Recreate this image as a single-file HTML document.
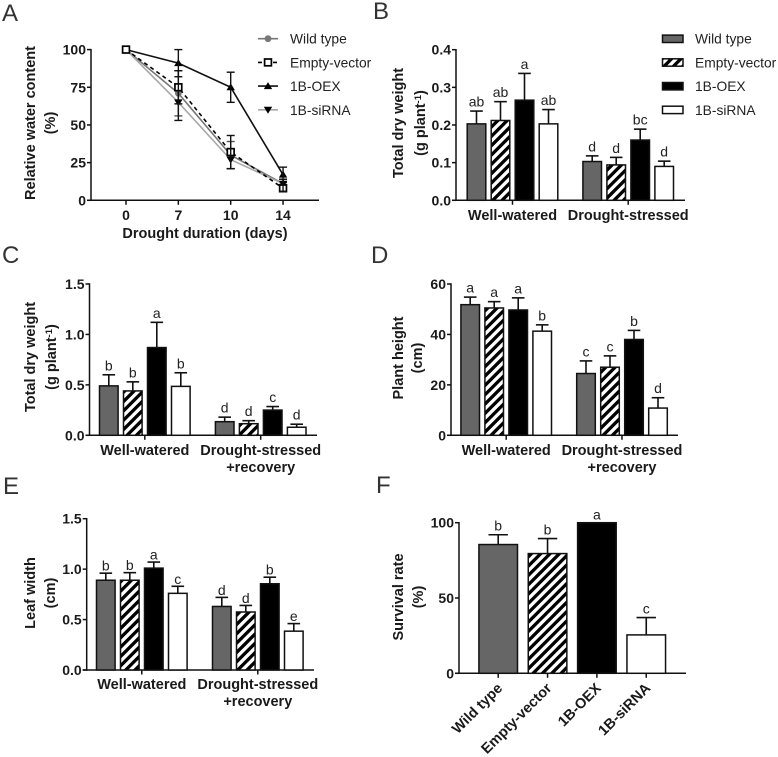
<!DOCTYPE html>
<html>
<head>
<meta charset="utf-8">
<title>Drought response panels</title>
<style>
html,body{margin:0;padding:0;background:#fff;}
svg{display:block;font-family:"Liberation Sans",sans-serif;filter:blur(0.35px);}
.tk{font-weight:bold;font-size:14px;fill:#1a1a1a;}
.ttl{font-weight:bold;font-size:14.5px;fill:#1a1a1a;text-anchor:middle;}
.cat{font-weight:bold;font-size:14.5px;fill:#1a1a1a;}
.lg{font-size:13.8px;fill:#222;}
.let{font-size:14px;fill:#222;text-anchor:middle;}
.pan{font-size:24px;fill:#333;}
</style>
</head>
<body>
<svg id="fig" xmlns="http://www.w3.org/2000/svg" width="778" height="757" viewBox="0 0 778 757">
<defs>
<pattern id="hatch" patternUnits="userSpaceOnUse" width="6.6" height="6.6" patternTransform="rotate(45)">
<rect width="6.6" height="6.6" fill="#fff"/>
<rect width="3.3" height="6.6" fill="#000"/>
</pattern>
</defs>
<text class="pan" x="2" y="21">A</text>
<text class="pan" x="373" y="19">B</text>
<text class="pan" x="2" y="263">C</text>
<text class="pan" x="371" y="263">D</text>
<text class="pan" x="3" y="494">E</text>
<text class="pan" x="376" y="493">F</text>

<text class="ttl" transform="translate(35,123) rotate(-90)">Relative water content</text>
<text class="ttl" transform="translate(55,123) rotate(-90)">(%)</text>
<text class="ttl" x="205" y="238">Drought duration (days)</text>

<text class="ttl" transform="translate(403,123) rotate(-90)">Total dry weight</text>
<text class="ttl" transform="translate(425,123) rotate(-90)">(g plant<tspan dy="-4" font-size="9.5">-1</tspan><tspan dy="4">)</tspan></text>

<text class="ttl" transform="translate(35,357) rotate(-90)">Total dry weight</text>
<text class="ttl" transform="translate(56,357) rotate(-90)">(g plant<tspan dy="-4" font-size="9.5">-1</tspan><tspan dy="4">)</tspan></text>

<text class="ttl" transform="translate(403,358) rotate(-90)">Plant height</text>
<text class="ttl" transform="translate(422,358) rotate(-90)">(cm)</text>

<text class="ttl" transform="translate(35,593) rotate(-90)">Leaf width</text>
<text class="ttl" transform="translate(55,593) rotate(-90)">(cm)</text>

<text class="ttl" transform="translate(403,597) rotate(-90)">Survival rate</text>
<text class="ttl" transform="translate(423,597) rotate(-90)">(%)</text>
</svg>
<script>
var legendNames = ["Wild type", "Empty-vector", "1B-OEX", "1B-siRNA"];

var aDays = ["0", "7", "10", "14"];
var aTicks = [0, 25, 50, 75, 100];
var aWild = [100, 71, 30, 11];
var aWildErr = [0, 15, 9, 3];
var aEmpty = [100, 75, 32, 8];
var aEmptyErr = [0, 11, 11, 2];
var aOex = [100, 91, 75, 17];
var aOexErr = [0, 9, 10, 5];
var aSirna = [100, 65, 27, 11];
var aSirnaErr = [0, 12, 6, 3];

var bTicks = [0.0, 0.1, 0.2, 0.3, 0.4];
var bGroups = ["Well-watered", "Drought-stressed"];
var bMeans = [0.203, 0.212, 0.266, 0.203, 0.103, 0.094, 0.160, 0.090];
var bErrs = [0.034, 0.050, 0.071, 0.038, 0.015, 0.020, 0.029, 0.014];
var bLetters = ["ab", "ab", "a", "ab", "d", "d", "bc", "d"];

var cTicks = [0.0, 0.5, 1.0, 1.5];
var cGroups = ["Well-watered", "Drought-stressed"];
var cMeans = [0.49, 0.44, 0.87, 0.485, 0.135, 0.115, 0.25, 0.08];
var cErrs = [0.11, 0.09, 0.25, 0.135, 0.045, 0.03, 0.035, 0.03];
var cLetters = ["b", "b", "a", "b", "d", "d", "c", "d"];

var dTicks = [0, 20, 40, 60];
var dGroups = ["Well-watered", "Drought-stressed"];
var dMeans = [51.8, 50.5, 49.7, 41.3, 24.5, 27, 38, 10.8];
var dErrs = [3, 2.5, 4.8, 2.5, 5, 4.5, 3.6, 4.1];
var dLetters = ["a", "a", "a", "b", "c", "c", "b", "d"];

var eTicks = [0.0, 0.5, 1.0, 1.5];
var eGroups = ["Well-watered", "Drought-stressed"];
var eMeans = [0.89, 0.89, 1.01, 0.76, 0.63, 0.575, 0.855, 0.385];
var eErrs = [0.07, 0.075, 0.06, 0.07, 0.09, 0.065, 0.065, 0.075];
var eLetters = ["b", "b", "a", "c", "d", "d", "b", "e"];

var fTicks = [0, 50, 100];
var fCategories = ["Wild type", "Empty-vector", "1B-OEX", "1B-siRNA"];
var fMeans = [85.5, 79.5, 100, 25.5];
var fErrs = [6.5, 10, 0, 11.5];
var fLetters = ["b", "b", "a", "c"];

var NS = "http://www.w3.org/2000/svg";
var fig = document.getElementById("fig");
var INK = "#111";

function el(tag, attrs, parent) {
  var n = document.createElementNS(NS, tag);
  for (var k in attrs) n.setAttribute(k, attrs[k]);
  (parent || fig).appendChild(n);
  return n;
}
function label(cls, x, y, str, anchor, parent, extra) {
  var t = el("text", {"class": cls, x: x, y: y}, parent);
  if (anchor) t.setAttribute("text-anchor", anchor);
  if (extra) t.setAttribute("transform", extra);
  t.textContent = str;
  return t;
}
function linear(d0, d1, r0, r1) {
  return function (v) { return r0 + (v - d0) / (d1 - d0) * (r1 - r0); };
}

function yAxis(prefix, scale, ticks, x0, x1, decimals) {
  var g = el("g", {});
  
  
  var top = scale(ticks[ticks.length - 1]), bottom = scale(ticks[0]);
  el("line", {x1: x0, x2: x0, y1: top - 0.75, y2: bottom + 0.75, stroke: INK, "stroke-width": 1.5}, g);
  el("line", {x1: x0 - 4, x2: x1, y1: bottom, y2: bottom, stroke: INK, "stroke-width": 1.5}, g);
  ticks.forEach(function (tv) {
    var y = scale(tv);
    el("line", {x1: x0 - 4, x2: x0, y1: y, y2: y, stroke: INK, "stroke-width": 1.5}, g);
    var t = label("tk", x0 - 5, y + 5, tv.toFixed(decimals), "end", g);
    
    
  });
}
function xTick(g, x, y0) {
  el("line", {x1: x, x2: x, y1: y0, y2: y0 + 4.5, stroke: INK, "stroke-width": 1.5}, g);
}

function hatchOrFill(i) {
  return ["#666666", "url(#hatch)", "#000000", "#ffffff"][i];
}

function drawBar(g, cx, w, yScale, mean, err, fill, letter, capHalf, gap) {
  var y0 = yScale(0), yt = yScale(mean), ye = yScale(mean + err);
  if (err > 0) {
    el("line", {x1: cx, x2: cx, y1: yt, y2: ye, stroke: INK, "stroke-width": 1.6}, g);
    el("line", {x1: cx - capHalf, x2: cx + capHalf, y1: ye, y2: ye, stroke: INK, "stroke-width": 1.6}, g);
  }
  el("rect", {x: cx - w / 2, y: yt, width: w, height: y0 - yt, fill: fill, stroke: INK, "stroke-width": 1.5}, g);
  var t = label("let", cx, ye - gap, letter, null, g);
  
  
}

function groupedPanel(prefix, cfg, ticks, groups, means, errs, letters) {
  var y = linear(ticks[0], ticks[ticks.length - 1], cfg.y0, cfg.yTop);
  yAxis(prefix, y, ticks, cfg.axisX, cfg.axisEnd, cfg.decimals);
  var g = el("g", {});
  
  
  means.forEach(function (m, i) {
    var gi = Math.floor(i / 4), si = i % 4;
    var cx = cfg.groupStart[gi] + si * 24;
    drawBar(g, cx, 18.6, y, m, errs[i], hatchOrFill(si), letters[i], 6.3, cfg.gap);
  });
  var xa = el("g", {});
  
  
  groups.forEach(function (name, gi) {
    var cx = cfg.groupStart[gi] + 36;
    xTick(xa, cx, cfg.y0);
    var t = label("ttl", cx, cfg.labelY, name, null, xa);
    
    
    if (gi === 1 && cfg.second) {
      var t2 = label("ttl", cx, cfg.labelY + 17, cfg.second, null, xa);
      
      
    }
  });
}

groupedPanel("b", {y0: 200.3, yTop: 49.7, axisX: 456, axisEnd: 685, decimals: 1, groupStart: [476.5, 592.2], labelY: 220, gap: 4.5}, bTicks, bGroups, bMeans, bErrs, bLetters);
groupedPanel("c", {y0: 435.3, yTop: 284, axisX: 89.5, axisEnd: 317, decimals: 1, groupStart: [108.8, 224.7], labelY: 455, gap: 4.5, second: "+recovery"}, cTicks, cGroups, cMeans, cErrs, cLetters);
groupedPanel("d", {y0: 435.3, yTop: 284, axisX: 451, axisEnd: 678, decimals: 0, groupStart: [470.2, 586], labelY: 455, gap: 4.5, second: "+recovery"}, dTicks, dGroups, dMeans, dErrs, dLetters);
groupedPanel("e", {y0: 670, yTop: 518.7, axisX: 86.7, axisEnd: 314, decimals: 1, groupStart: [105.8, 221.8], labelY: 689, gap: 2.5, second: "+recovery"}, eTicks, eGroups, eMeans, eErrs, eLetters);

/* Panel F */
(function () {
  var y = linear(0, 100, 673.3, 522.7);
  yAxis("f", y, fTicks, 459, 686, 0);
  var g = el("g", {});
  
  
  var xa = el("g", {});
  
  
  fCategories.forEach(function (name, i) {
    var cx = 498.2 + i * 49.35;
    drawBar(g, cx, 38.6, y, fMeans[i], fErrs[i], hatchOrFill(i), fLetters[i], 9.7, fErrs[i] > 0 ? 4 : 3.2);
    xTick(xa, cx, 673.3);
    var t = label("cat", cx + 5, 689, name, "end", xa, "rotate(-45 " + (cx + 5) + " 689)");
    
    
  });
})();

/* Panel A */
function marker(g, kind, x, y, color) {
  if (kind === 0) el("circle", {cx: x, cy: y, r: 3.4, fill: color}, g);
  if (kind === 1) el("rect", {x: x - 3.4, y: y - 3.4, width: 6.8, height: 6.8, fill: "#fff", stroke: "#000", "stroke-width": 1.7}, g);
  if (kind === 2) el("path", {d: "M" + x + " " + (y - 4) + "L" + (x + 4.2) + " " + (y + 3) + "L" + (x - 4.2) + " " + (y + 3) + "Z", fill: "#000"}, g);
  if (kind === 3) el("path", {d: "M" + x + " " + (y + 4) + "L" + (x + 4.2) + " " + (y - 3) + "L" + (x - 4.2) + " " + (y - 3) + "Z", fill: "#000"}, g);
}
(function () {
  var y = linear(0, 100, 200.3, 49.6);
  var x = function (i) { return 126 + i * 52.35; };
  yAxis("a", y, aTicks, 91, 319, 0);
  var xa = el("g", {});
  
  
  aDays.forEach(function (d, i) {
    xTick(xa, x(i), 200.3);
    var t = label("tk", x(i), 220, d, "middle", xa);
    
    
  });
  var order = [
    {kind: 0, name: "wild-type", vals: aWild, errs: aWildErr, color: "#777777", dash: ""},
    {kind: 2, name: "1b-oex", vals: aOex, errs: aOexErr, color: "#111111", dash: ""},
    {kind: 3, name: "1b-sirna", vals: aSirna, errs: aSirnaErr, color: "#a8a8a8", dash: ""},
    {kind: 1, name: "empty-vector", vals: aEmpty, errs: aEmptyErr, color: "#000000", dash: "4 3.5"}
  ];
  order.forEach(function (s) {
    var g = el("g", {});
    
    
    var pts = s.vals.map(function (v, i) { return x(i) + "," + y(v); }).join(" ");
    var line = el("polyline", {points: pts, fill: "none", stroke: s.color, "stroke-width": 1.6}, g);
    if (s.dash) line.setAttribute("stroke-dasharray", s.dash);
    s.vals.forEach(function (v, i) {
      marker(g, s.kind, x(i), y(v), s.color);
      if (s.errs[i] > 0) {
        var t = y(v + s.errs[i]), b = y(v - s.errs[i]), c = x(i);
        var ec = s.kind === 0 ? "#555" : "#111";
        el("line", {x1: c, x2: c, y1: t, y2: b, stroke: ec, "stroke-width": 1.4}, g);
        el("line", {x1: c - 4, x2: c + 4, y1: t, y2: t, stroke: ec, "stroke-width": 1.4}, g);
        el("line", {x1: c - 4, x2: c + 4, y1: b, y2: b, stroke: ec, "stroke-width": 1.4}, g);
      }
    });
  });

  /* Legends */
  var rowsY = function (i) { return 38.7 + i * 23.7; };
  var lineColors = ["#777777", "#000000", "#111111", "#a8a8a8"];
  legendNames.forEach(function (name, i) {
    var ya = rowsY(i);
    var ga = el("g", {});
    
    
    var ln = el("line", {x1: 258, x2: 278, y1: ya, y2: ya, stroke: lineColors[i], "stroke-width": 1.6}, ga);
    if (i === 1) ln.setAttribute("stroke-dasharray", "4 3.5");
    marker(ga, [0, 1, 2, 3][i], 268, ya, lineColors[i]);
    label("lg", 290, ya + 5, name, null, ga);

    var gb = el("g", {});
    
    
    el("rect", {x: 662.5, y: ya - 3.6, width: 20.5, height: 7.4, fill: hatchOrFill(i), stroke: INK, "stroke-width": 1.5}, gb);
    label("lg", 695, ya + 5, name, null, gb);
  });
})();
</script>
</body>
</html>
